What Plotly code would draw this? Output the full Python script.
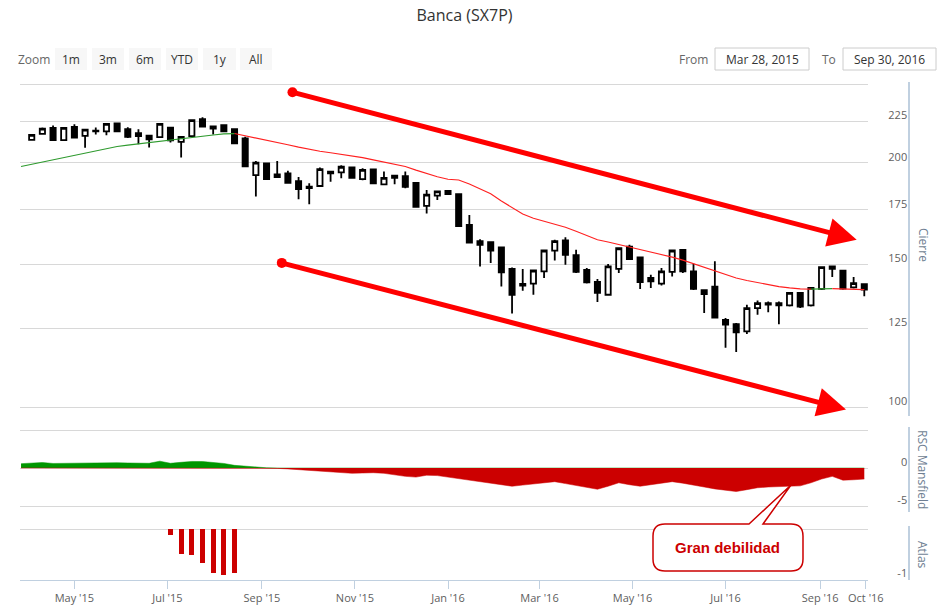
import math

import pandas as pd
import plotly.graph_objs as go

# Datos semanales (velas fechadas el viernes)
weeks = pd.date_range("2015-04-03", periods=79, freq="7D")
ma_weeks = pd.date_range("2015-03-27", periods=80, freq="7D")

open_ = [213.4, 217.0, 220.7, 213.2, 221.3, 215.8, 218.6, 218.5, 223.5, 219.9,
         217.4, 216.0, 215.0, 220.9, 212.2, 215.6, 226.2, 221.6, 222.4, 219.9,
         214.2, 193.1, 199.6, 192.0, 194.0, 189.8, 186.8, 187.2, 194.9, 194.6,
         197.3, 190.9, 196.2, 188.1, 192.7, 192.5, 188.8, 176.9, 182.1, 184.6,
         182.9, 167.6, 160.1, 159.6, 157.3, 148.0, 141.8, 141.9, 146.9, 155.8,
         160.4, 153.9, 147.5, 142.6, 137.5, 148.0, 157.6, 152.9, 144.2, 141.9,
         146.7, 156.2, 146.9, 139.3, 140.7, 128.0, 126.5, 123.9, 132.4, 134.3,
         134.3, 133.4, 138.2, 133.4, 139.8, 149.0, 147.2, 140.4, 141.7]
high = [217.0, 221.0, 222.2, 221.2, 223.0, 220.2, 221.0, 223.6, 223.9, 221.1,
        219.9, 216.4, 223.6, 221.3, 215.6, 226.2, 227.5, 222.2, 222.8, 220.3,
        215.2, 200.9, 200.0, 200.9, 195.4, 192.0, 188.6, 197.3, 195.3, 198.6,
        197.8, 196.8, 196.6, 195.0, 193.0, 195.0, 189.2, 185.1, 184.8, 185.0,
        183.3, 172.4, 161.0, 160.0, 157.7, 148.6, 147.9, 147.7, 156.3, 160.7,
        161.9, 156.2, 148.3, 143.8, 150.0, 157.3, 158.4, 153.3, 145.5, 148.3,
        156.3, 156.6, 150.1, 139.7, 151.2, 128.7, 126.9, 133.7, 135.3, 134.9,
        134.9, 138.6, 138.6, 140.6, 149.1, 149.4, 147.6, 144.6, 142.1]
low = [212.8, 216.5, 212.8, 212.8, 214.3, 208.6, 216.7, 216.2, 218.1, 214.5,
       210.7, 208.8, 214.6, 211.8, 203.0, 215.2, 221.2, 216.7, 218.0, 210.7,
       197.5, 181.7, 190.4, 191.6, 188.5, 180.3, 177.7, 186.8, 189.4, 191.3,
       191.2, 190.2, 188.1, 187.7, 188.1, 186.0, 176.1, 173.2, 179.9, 182.5,
       166.7, 159.0, 149.0, 150.5, 140.8, 130.4, 139.1, 137.5, 144.2, 151.5,
       149.7, 146.3, 142.0, 134.7, 137.1, 146.3, 151.7, 139.8, 140.2, 141.2,
       144.8, 146.3, 139.4, 130.6, 128.5, 118.3, 116.9, 123.0, 129.9, 130.8,
       126.5, 133.0, 132.4, 133.0, 139.4, 144.6, 139.5, 140.0, 136.9]
close = [216.4, 220.3, 213.2, 220.7, 214.8, 219.7, 219.0, 223.2, 218.5, 215.2,
         215.6, 213.6, 223.2, 213.0, 215.2, 225.6, 221.6, 220.3, 218.5, 211.3,
         197.9, 200.0, 190.9, 193.5, 188.9, 185.6, 186.1, 196.4, 194.0, 197.7,
         191.6, 195.9, 188.6, 191.6, 191.6, 186.8, 176.5, 182.7, 184.4, 182.9,
         167.1, 159.4, 158.4, 155.9, 146.5, 137.5, 141.1, 147.3, 155.9, 160.1,
         154.0, 146.7, 142.4, 138.2, 149.0, 156.9, 152.1, 142.5, 142.8, 146.9,
         155.9, 146.9, 139.8, 137.8, 128.9, 126.3, 123.6, 132.4, 134.3, 133.7,
         133.4, 138.2, 133.0, 140.2, 148.7, 148.0, 139.9, 142.1, 139.5]

# Media móvil 30 semanas
ma30 = [197.8, 199.1, 200.4, 201.7, 203.0, 204.3, 205.7, 207.0, 208.4, 209.4,
        210.2, 211.0, 211.8, 212.6, 213.4, 214.1, 214.9, 215.5, 216.3, 217.0,
        217.2, 215.9, 214.5, 213.2, 211.7, 210.4, 209.0, 207.6, 206.6, 205.7,
        204.8, 203.8, 202.9, 201.6, 200.4, 199.1, 197.8, 195.8, 193.9, 192.2,
        190.8, 190.4, 188.2, 185.8, 183.1, 179.4, 175.9, 172.9, 170.8, 169.3,
        167.9, 166.5, 164.6, 162.6, 160.7, 159.7, 158.6, 157.6, 156.2, 155.2,
        154.1, 153.0, 151.7, 150.2, 148.8, 147.2, 145.6, 144.2, 143.2, 142.3,
        141.3, 140.7, 140.2, 139.8, 139.7, 139.8, 139.9, 139.8, 139.6, 139.5]

# RSC Mansfield
rsc = [0.57, 0.68, 0.72, 0.6, 0.62, 0.66, 0.7, 0.72, 0.74, 0.7,
       0.66, 0.6, 0.62, 0.9, 0.62, 0.75, 0.86, 0.85, 0.75, 0.6,
       0.35, 0.22, 0.12, 0.03, -0.05, -0.12, -0.22, -0.33, -0.45, -0.55,
       -0.65, -0.7, -0.66, -0.62, -0.7, -0.9, -1.1, -1.2, -0.95, -1.0,
       -1.2, -1.4, -1.55, -1.75, -1.95, -2.2, -2.4, -2.25, -2.1, -1.9,
       -1.8, -2.05, -2.3, -2.55, -2.8, -2.4, -1.95, -2.2, -2.4, -2.2,
       -1.95, -1.8, -2.0, -2.3, -2.5, -2.75, -2.95, -3.1, -2.85, -2.6,
       -2.5, -2.42, -2.4, -2.35, -1.95, -1.45, -1.1, -1.6, -1.55, -1.45]

# Atlas
atlas_dates = ["2015-07-03", "2015-07-10", "2015-07-17", "2015-07-24",
               "2015-07-31", "2015-08-07", "2015-08-14"]
atlas_vals = [-0.12, -0.5, -0.52, -0.68, -0.88, -0.92, -0.88]

# Flechas de tendencia
arrow_start_dates = ["2015-09-21", "2015-09-14"]
arrow_start_prices = [244.2, 150.5]
arrow_end_dates = ["2016-09-25", "2016-09-18"]
arrow_end_prices = [160.7, 99.3]

tick_dates = ["2015-05-01", "2015-07-01", "2015-09-01", "2015-11-01", "2016-01-01",
              "2016-03-01", "2016-05-01", "2016-07-01", "2016-09-01", "2016-10-01"]
tick_text = ["May '15", "Jul '15", "Sep '15", "Nov '15", "Jan '16",
             "Mar '16", "May '16", "Jul '16", "Sep '16", "Oct '16"]
price_ticks = [100, 125, 150, 175, 200, 225, 250]
price_text = ["100", "125", "150", "175", "200", "225", ""]

# Zona de dibujo en píxeles
L, R, T, B = 20, 909, 82, 580
PXLOG = 353.4  # píxeles por unidad de ln(precio)


def px(x):
    return (x - L) / (R - L)


def py(y):
    return (B - y) / (B - T)


FONT = "Open Sans"
GRID = "#d8d8d8"
AXLINE = "#c0d0e0"
LABEL = "#606060"

traces = []

traces.append(go.Candlestick(
    x=weeks, open=open_, high=high, low=low, close=close,
    increasing=dict(line=dict(color="black", width=1.8), fillcolor="white"),
    decreasing=dict(line=dict(color="black", width=1.8), fillcolor="black"),
    xaxis="x", yaxis="y", hoverinfo="skip", showlegend=False,
))

# media móvil: verde si sube, roja si baja
seg_x, seg_y, seg_col = [ma_weeks[0]], [ma30[0]], None
for i in range(1, len(ma30)):
    col = "#2e9a2e" if ma30[i] >= ma30[i - 1] else "#ff2020"
    if seg_col is not None and col != seg_col:
        traces.append(go.Scatter(x=seg_x, y=seg_y, mode="lines",
                                 line=dict(color=seg_col, width=1.1),
                                 xaxis="x", yaxis="y", hoverinfo="skip", showlegend=False))
        seg_x, seg_y = [seg_x[-1]], [seg_y[-1]]
    seg_x.append(ma_weeks[i])
    seg_y.append(ma30[i])
    seg_col = col
traces.append(go.Scatter(x=seg_x, y=seg_y, mode="lines",
                         line=dict(color=seg_col, width=1.1),
                         xaxis="x", yaxis="y", hoverinfo="skip", showlegend=False))

traces.append(go.Scatter(
    x=arrow_start_dates, y=arrow_start_prices, mode="markers",
    marker=dict(color="red", size=10), xaxis="x", yaxis="y",
    hoverinfo="skip", showlegend=False, cliponaxis=False,
))

rsc_pos = [max(v, 0) for v in rsc]
rsc_neg = [min(v, 0) for v in rsc]
traces.append(go.Scatter(x=ma_weeks, y=rsc_pos, mode="lines", fill="tozeroy",
                         line=dict(color="#009600", width=0.5), fillcolor="#009600",
                         xaxis="x", yaxis="y2", hoverinfo="skip", showlegend=False))
traces.append(go.Scatter(x=ma_weeks, y=rsc_neg, mode="lines", fill="tozeroy",
                         line=dict(color="#cc0000", width=0.5), fillcolor="#cc0000",
                         xaxis="x", yaxis="y2", hoverinfo="skip", showlegend=False))

traces.append(go.Bar(x=atlas_dates, y=atlas_vals, width=2.8e8,
                     marker=dict(color="#cc0000", line=dict(width=0)),
                     xaxis="x", yaxis="y3", hoverinfo="skip", showlegend=False))

yaxis_common = dict(
    side="right", anchor="free", position=1.0, showline=True,
    linecolor=AXLINE, linewidth=2, ticks="", ticklabelposition="inside",
    gridcolor=GRID, zeroline=False, tickfont=dict(size=11, color=LABEL),
    ticklabelshift=-6, fixedrange=True,
)

# rangos: paneles algo más altos para que las líneas de borde se vean
price_top, price_bot = 82, 416           # 250 en y=84, 100 en y=407
log_top = (math.log(250) + (84 - price_top) / PXLOG) / math.log(10)
log_bot = (math.log(100) - (price_bot - 407) / PXLOG) / math.log(10)
rsc_top, rsc_bot = 427, 512              # +5 en 430, -5 en 506
rsc_scale = 76 / 10
atl_top, atl_bot = 526, 580              # 0 en 529, -1 en 579

layout = go.Layout(
    width=941, height=616,
    margin=dict(l=L, r=941 - R, t=T, b=616 - B),
    paper_bgcolor="white", plot_bgcolor="white",
    font=dict(family=FONT, color="#333333"),
    title=dict(text="Banca (SX7P)", x=0.5, xref="paper", y=1 - 15 / 616,
               yref="container", yanchor="middle",
               font=dict(size=16, color="#333333")),
    showlegend=False,
    xaxis=dict(
        domain=[0, px(868)], anchor="y3",
        range=["2015-03-26 07:40", "2016-10-02 10:20"],
        showline=True, linecolor=AXLINE, linewidth=1,
        ticks="outside", ticklen=8, tickcolor=AXLINE,
        tickvals=tick_dates, ticktext=tick_text,
        tickfont=dict(size=11, color=LABEL),
        showgrid=False, rangeslider=dict(visible=False), fixedrange=True,
    ),
    yaxis=dict(domain=[py(price_bot), py(price_top)], type="log",
               range=[log_bot, log_top],
               tickvals=price_ticks, ticktext=price_text, **yaxis_common),
    yaxis2=dict(domain=[py(rsc_bot), py(rsc_top)],
                range=[-5 - (rsc_bot - 506) / rsc_scale, 5 + (430 - rsc_top) / rsc_scale],
                tickvals=[-5, 0, 5], ticktext=["-5", "0", ""], **yaxis_common),
    yaxis3=dict(domain=[py(atl_bot), py(atl_top)],
                range=[-1 - (atl_bot - 579) / 50, (529 - atl_top) / 50],
                tickvals=[-1, 0], ticktext=["-1", ""], **yaxis_common),
    bargap=0,
)

shapes = []
annotations = []


def label(text, x, y, size=12, color="#333333", **kw):
    d = dict(text=text, x=px(x), y=py(y), xref="paper", yref="paper",
             xanchor="center", yanchor="middle", showarrow=False,
             font=dict(size=size, color=color))
    d.update(kw)
    annotations.append(d)


# Barra de zoom
label("Zoom", 34, 59, color="#666666")
buttons = [("1m", 55, 87), ("3m", 92, 124), ("6m", 129, 161),
           ("YTD", 166, 198), ("1y", 203, 236), ("All", 240, 272)]
for text, x0, x1 in buttons:
    shapes.append(dict(type="rect", xref="paper", yref="paper",
                       x0=px(x0), x1=px(x1), y0=py(70), y1=py(48),
                       fillcolor="#f7f7f7", line=dict(width=0)))
    label(text, (x0 + x1) / 2, 59)

label("From", 693, 59, color="#666666")
label("To", 829, 59, color="#666666")
for text, x0, x1 in [("Mar 28, 2015", 715, 809), ("Sep 30, 2016", 843, 936)]:
    shapes.append(dict(type="rect", xref="paper", yref="paper",
                       x0=px(x0), x1=px(x1), y0=py(70), y1=py(48),
                       fillcolor="white", line=dict(color="#cccccc", width=1)))
    label(text, (x0 + x1) / 2, 59)

# Títulos de los ejes (girados)
for text, yc in [("Cierre", 245), ("RSC Mansfield", 469), ("Atlas", 555)]:
    label(text, 923, yc, color="#6f7f93", textangle=90)

# Flechas rojas
for sd, sp, ed, ep in zip(arrow_start_dates, arrow_start_prices,
                          arrow_end_dates, arrow_end_prices):
    annotations.append(dict(
        x=ed, y=math.log10(ep), xref="x", yref="y",
        ax=sd, ay=math.log10(sp), axref="x", ayref="y",
        text="", showarrow=True, arrowhead=2, arrowsize=1.15,
        arrowwidth=5, arrowcolor="red", standoff=0, startstandoff=0,
    ))

# Bocadillo "Gran debilidad"
bx0, bx1, by0, by1, rr = 653, 803, 524, 571, 12


def P(x, y):
    return "%.5f,%.5f" % (px(x), py(y))


path = ("M " + P(bx0 + rr, by0) + " L " + P(749, by0) + " L " + P(791, 485) +
        " L " + P(763, by0) + " L " + P(bx1 - rr, by0) +
        " Q " + P(bx1, by0) + " " + P(bx1, by0 + rr) +
        " L " + P(bx1, by1 - rr) + " Q " + P(bx1, by1) + " " + P(bx1 - rr, by1) +
        " L " + P(bx0 + rr, by1) + " Q " + P(bx0, by1) + " " + P(bx0, by1 - rr) +
        " L " + P(bx0, by0 + rr) + " Q " + P(bx0, by0) + " " + P(bx0 + rr, by0) + " Z")
shapes.append(dict(type="path", xref="paper", yref="paper", path=path,
                   fillcolor="white", line=dict(color="#cc0000", width=1.5)))
annotations.append(dict(text="<b>Gran debilidad</b>", x=px(727), y=py(547),
                        xref="paper", yref="paper", xanchor="center", yanchor="middle",
                        showarrow=False,
                        font=dict(family="Liberation Sans", size=15, color="#cc0000")))

layout.shapes = shapes
layout.annotations = annotations

fig = go.Figure(data=traces, layout=layout)
fig.write_html("out.html", config={"displayModeBar": False},
               post_script="document.body.style.margin='0';")
